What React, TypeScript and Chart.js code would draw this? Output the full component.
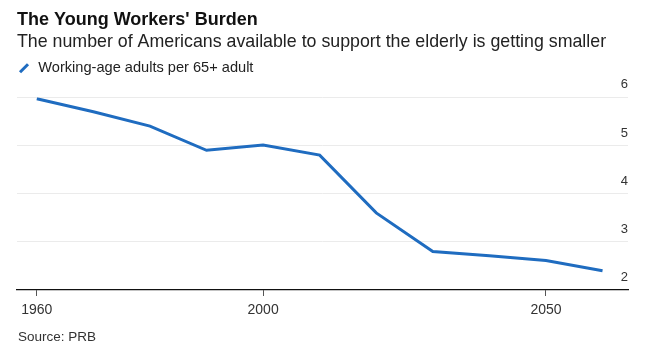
import React, { useEffect, useRef } from 'react';
import { Chart, registerables } from 'chart.js';

Chart.register(...registerables);

const TITLE = "The Young Workers' Burden";
const SUBTITLE = 'The number of Americans available to support the elderly is getting smaller';
const SERIES_LABEL = 'Working-age adults per 65+ adult';
const SOURCE = 'Source: PRB';

const YEARS = [1960, 1970, 1980, 1990, 2000, 2010, 2020, 2030, 2040, 2050, 2060];
const RATIO = [5.97, 5.7, 5.4, 4.9, 5.01, 4.8, 3.6, 2.8, 2.71, 2.61, 2.4];

const X_TICKS = [1960, 2000, 2050];
const Y_TICKS = [2, 3, 4, 5, 6];
const X_MIN = 1956.5;
const X_MAX = 2064.5;
const Y_MIN = 2;
const Y_MAX = 6;

const FONT = '"Liberation Sans", Arial, Helvetica, sans-serif';
const LINE_COLOR = '#1f6cc0';

export default function App() {
  const canvasRef = useRef<HTMLCanvasElement | null>(null);

  useEffect(() => {
    const canvas = canvasRef.current;
    if (!canvas) return;
    const chart = new Chart(canvas, {
      type: 'line',
      data: {
        datasets: [
          {
            label: SERIES_LABEL,
            xAxisID: 'x',
            yAxisID: 'y',
            data: YEARS.map((year, i) => ({ x: year, y: RATIO[i] })),
            borderColor: LINE_COLOR,
            backgroundColor: LINE_COLOR,
            borderWidth: 3,
            pointRadius: 0,
            pointHoverRadius: 0,
            tension: 0,
            fill: false,
          },
        ],
      },
      options: {
        animation: false,
        responsive: false,
        maintainAspectRatio: false,
        devicePixelRatio: 1,
        events: [],
        layout: {
          padding: { left: 17, right: 24, top: 0, bottom: 26.2 },
        },
        plugins: {
          title: {
            display: true,
            text: TITLE,
            align: 'start',
            color: '#111111',
            font: { family: FONT, size: 18, weight: 'bold', lineHeight: 1.2 },
            padding: { top: 9.5, bottom: 0 },
          },
          subtitle: {
            display: true,
            text: SUBTITLE,
            align: 'start',
            color: '#222222',
            font: { family: FONT, size: 17.8, weight: 'normal', lineHeight: 1.2 },
            padding: { top: 0, bottom: 8.5 },
          },
          legend: {
            display: true,
            position: 'top',
            align: 'start',
            labels: {
              usePointStyle: true,
              boxWidth: 14,
              boxHeight: 8,
              padding: 0,
              color: '#222222',
              font: { family: FONT, size: 14.6 },
              generateLabels: (c: any) =>
                c.data.datasets.map((ds: any, i: number) => ({
                  text: ds.label,
                  fillStyle: LINE_COLOR,
                  strokeStyle: LINE_COLOR,
                  lineWidth: 3,
                  lineCap: 'butt',
                  pointStyle: 'line',
                  rotation: -45,
                  hidden: false,
                  datasetIndex: i,
                  fontColor: '#222222',
                })),
            },
          },
          tooltip: { enabled: false },
        },
        scales: {
          x: {
            type: 'linear',
            position: 'bottom',
            min: X_MIN,
            max: X_MAX,
            afterBuildTicks: (axis: any) => {
              axis.ticks = X_TICKS.map((v) => ({ value: v }));
            },
            ticks: {
              color: '#333333',
              font: { family: FONT, size: 14 },
              padding: 6,
              maxRotation: 0,
              autoSkip: false,
              callback: (v: any) => String(v),
            },
            grid: {
              display: true,
              drawOnChartArea: false,
              drawTicks: true,
              tickLength: 6,
              color: '#555555',
              lineWidth: 1,
            },
            border: { display: true, color: '#111111', width: 1.2 },
          },
          // empty spacer band between the legend and the plot area
          spacer: {
            type: 'linear',
            axis: 'x',
            position: 'top',
            min: X_MIN,
            max: X_MAX,
            ticks: { display: false },
            grid: {
              display: true,
              drawOnChartArea: false,
              drawTicks: true,
              tickLength: 11.7,
              color: 'rgba(0,0,0,0)',
            },
            border: { display: false },
          },
          y: {
            type: 'linear',
            position: 'right',
            min: Y_MIN,
            max: Y_MAX,
            afterBuildTicks: (axis: any) => {
              axis.ticks = Y_TICKS.map((v) => ({ value: v }));
            },
            ticks: {
              mirror: true,
              padding: 0,
              labelOffset: -12.5,
              color: '#333333',
              font: { family: FONT, size: 13 },
              callback: (v: any) => String(v),
            },
            grid: {
              display: true,
              drawTicks: false,
              tickLength: 0,
              lineWidth: 1,
              color: (ctx: any) => (ctx.tick && ctx.tick.value === Y_MIN ? 'rgba(0,0,0,0)' : '#ebebeb'),
            },
            border: { display: false },
          },
        },
      },
    });
    return () => chart.destroy();
  }, []);

  return (
    <div style={{ position: 'absolute', left: 0, top: 0, width: 652, height: 351, background: '#ffffff', overflow: 'hidden' }}>
      <canvas ref={canvasRef} width={652} height={351} style={{ display: 'block', width: 652, height: 351 }} />
      <div
        style={{
          position: 'absolute',
          left: 18,
          top: 329,
          fontFamily: FONT,
          fontSize: 13.5,
          lineHeight: '16px',
          color: '#333333',
          whiteSpace: 'nowrap',
        }}
      >
        {SOURCE}
      </div>
    </div>
  );
}
